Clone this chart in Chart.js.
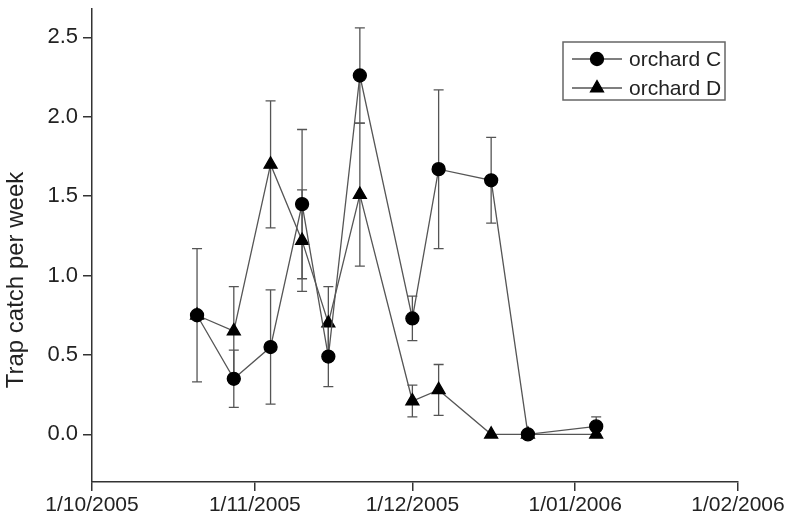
<!DOCTYPE html>
<html>
<head>
<meta charset="utf-8">
<script src="https://cdn.jsdelivr.net/npm/chart.js@4/dist/chart.umd.min.js"></script>
<style>
  html, body { margin: 0; padding: 0; background: #fff; }
  #wrap { width: 797px; height: 523px; }
</style>
</head>
<body>
<div id="wrap"><canvas id="trapChart" width="797" height="523"></canvas></div>
<script>
// sampling dates (trap checks)
const sampleDates = ['2005-10-21', '2005-10-28', '2005-11-04', '2005-11-10', '2005-11-15', '2005-11-21',
                     '2005-12-01', '2005-12-06', '2005-12-16', '2005-12-23', '2006-01-05'];

// orchard C: mean and error
const orchardC    = [0.75, 0.35, 0.55, 1.45, 0.49, 2.26, 0.73, 1.67, 1.60, 0.00, 0.05];
const orchardCErr = [0.42, 0.18, 0.36, 0.47, 0.19, 0.30, 0.14, 0.50, 0.27, 0.00, 0.06];

// orchard D: mean and error
const orchardD    = [0.75, 0.65, 1.70, 1.22, 0.70, 1.51, 0.21, 0.28, 0.00, 0.00, 0.00];
const orchardDErr = [0.00, 0.28, 0.40, 0.32, 0.23, 0.45, 0.10, 0.16, 0.00, 0.00, 0.00];

// axis ticks
const xTickDates  = ['2005-10-01', '2005-11-01', '2005-12-01', '2006-01-01', '2006-02-01'];
const xTickLabels = ['1/10/2005', '1/11/2005', '1/12/2005', '1/01/2006', '1/02/2006'];
const yTicks      = [0, 0.5, 1.0, 1.5, 2.0, 2.5];
const yTitle      = 'Trap catch per week';

const FONT = "'Liberation Sans', Arial, Helvetica, sans-serif";
const TEXT = '#222';
const AXIS = '#333';
const LINE = '#555';

// days since 1 Oct 2005
function toDay(s) {
    const p = s.split('-').map(Number);
    return (Date.UTC(p[0], p[1] - 1, p[2]) - Date.UTC(2005, 9, 1)) / 86400000;
}

const xDays = sampleDates.map(toDay);
const xTickDays = xTickDates.map(toDay);

function pts(vals) {
    return vals.map((v, i) => ({ x: xDays[i], y: v }));
}

// error bars drawn under the markers
const errorBars = {
    id: 'errorBars',
    beforeDatasetsDraw(chart) {
        const ctx = chart.ctx;
        const xs = chart.scales.x, ys = chart.scales.y;
        const errs = [orchardCErr, orchardDErr];
        ctx.save();
        ctx.strokeStyle = LINE;
        ctx.lineWidth = 1.3;
        chart.data.datasets.forEach((ds, di) => {
            ds.data.forEach((p, i) => {
                const e = errs[di][i];
                if (!e) return;
                const px = xs.getPixelForValue(p.x);
                const top = ys.getPixelForValue(p.y + e);
                const bot = ys.getPixelForValue(Math.max(p.y - e, 0));
                ctx.beginPath();
                ctx.moveTo(px, top); ctx.lineTo(px, bot);
                ctx.moveTo(px - 5, top); ctx.lineTo(px + 5, top);
                ctx.moveTo(px - 5, bot); ctx.lineTo(px + 5, bot);
                ctx.stroke();
            });
        });
        ctx.restore();
    }
};

// boxed legend in the upper right, plus the y axis title
const boxLegend = {
    id: 'boxLegend',
    afterDraw(chart) {
        const ctx = chart.ctx;
        ctx.save();
        ctx.strokeStyle = '#666';
        ctx.lineWidth = 1.5;
        ctx.strokeRect(563, 42, 162, 58);
        const rows = [59, 88];
        chart.data.datasets.forEach((ds, i) => {
            const y = rows[i];
            ctx.strokeStyle = LINE;
            ctx.lineWidth = 1.3;
            ctx.beginPath();
            ctx.moveTo(572, y); ctx.lineTo(622, y);
            ctx.stroke();
            ctx.fillStyle = '#000';
            ctx.strokeStyle = '#000';
            Chart.helpers.drawPoint(ctx, {
                pointStyle: ds.pointStyle,
                radius: ds.pointRadius,
                rotation: 0,
                borderWidth: 1
            }, 597, y);
            ctx.fillStyle = TEXT;
            ctx.font = '21px ' + FONT;
            ctx.textBaseline = 'middle';
            ctx.textAlign = 'left';
            ctx.fillText(ds.label, 629, y + 1);
        });

        // y title
        ctx.translate(16, 280);
        ctx.rotate(-Math.PI / 2);
        ctx.fillStyle = TEXT;
        ctx.font = '24px ' + FONT;
        ctx.textAlign = 'center';
        ctx.textBaseline = 'middle';
        ctx.fillText(yTitle, 0, 0);
        ctx.restore();
    }
};

new Chart(document.getElementById('trapChart').getContext('2d'), {
    type: 'line',
    data: {
        datasets: [
            {
                label: 'orchard C',
                data: pts(orchardC),
                borderColor: LINE,
                borderWidth: 1.3,
                pointStyle: 'circle',
                pointRadius: 6.5,
                pointBackgroundColor: '#000',
                pointBorderColor: '#000',
                tension: 0,
                clip: false
            },
            {
                label: 'orchard D',
                data: pts(orchardD),
                borderColor: LINE,
                borderWidth: 1.3,
                pointStyle: 'triangle',
                pointRadius: 7.5,
                pointBackgroundColor: '#000',
                pointBorderColor: '#000',
                tension: 0,
                clip: false
            }
        ]
    },
    options: {
        responsive: false,
        animation: false,
        events: [],
        layout: { padding: { left: 0, right: 59, top: 7, bottom: 0 } },
        plugins: {
            legend: { display: false },
            tooltip: { enabled: false }
        },
        scales: {
            x: {
                type: 'linear',
                min: 0,
                max: 123,
                afterBuildTicks(scale) {
                    scale.ticks = xTickDays.map(v => ({ value: v }));
                },
                afterFit(scale) { scale.height = 41; },
                ticks: {
                    autoSkip: false,
                    maxRotation: 0,
                    color: TEXT,
                    font: { family: FONT, size: 21 },
                    padding: 2,
                    callback: (v, i) => xTickLabels[i]
                },
                grid: { drawOnChartArea: false, drawTicks: true, tickLength: 9, color: AXIS, lineWidth: 1.5 },
                border: { display: true, color: AXIS, width: 1.5 }
            },
            y: {
                type: 'linear',
                min: -0.3,
                max: 2.68,
                afterBuildTicks(scale) {
                    scale.ticks = yTicks.map(v => ({ value: v }));
                },
                afterFit(scale) {
                    scale.width = 92;
                    scale.paddingTop = 0;
                    scale.paddingBottom = 0;
                },
                ticks: {
                    color: TEXT,
                    font: { family: FONT, size: 22 },
                    padding: 5,
                    callback: v => v.toFixed(1)
                },
                grid: { drawOnChartArea: false, drawTicks: true, tickLength: 9, color: AXIS, lineWidth: 1.5 },
                border: { display: true, color: AXIS, width: 1.5 }
            }
        }
    },
    plugins: [errorBars, boxLegend]
});
</script>
</body>
</html>
